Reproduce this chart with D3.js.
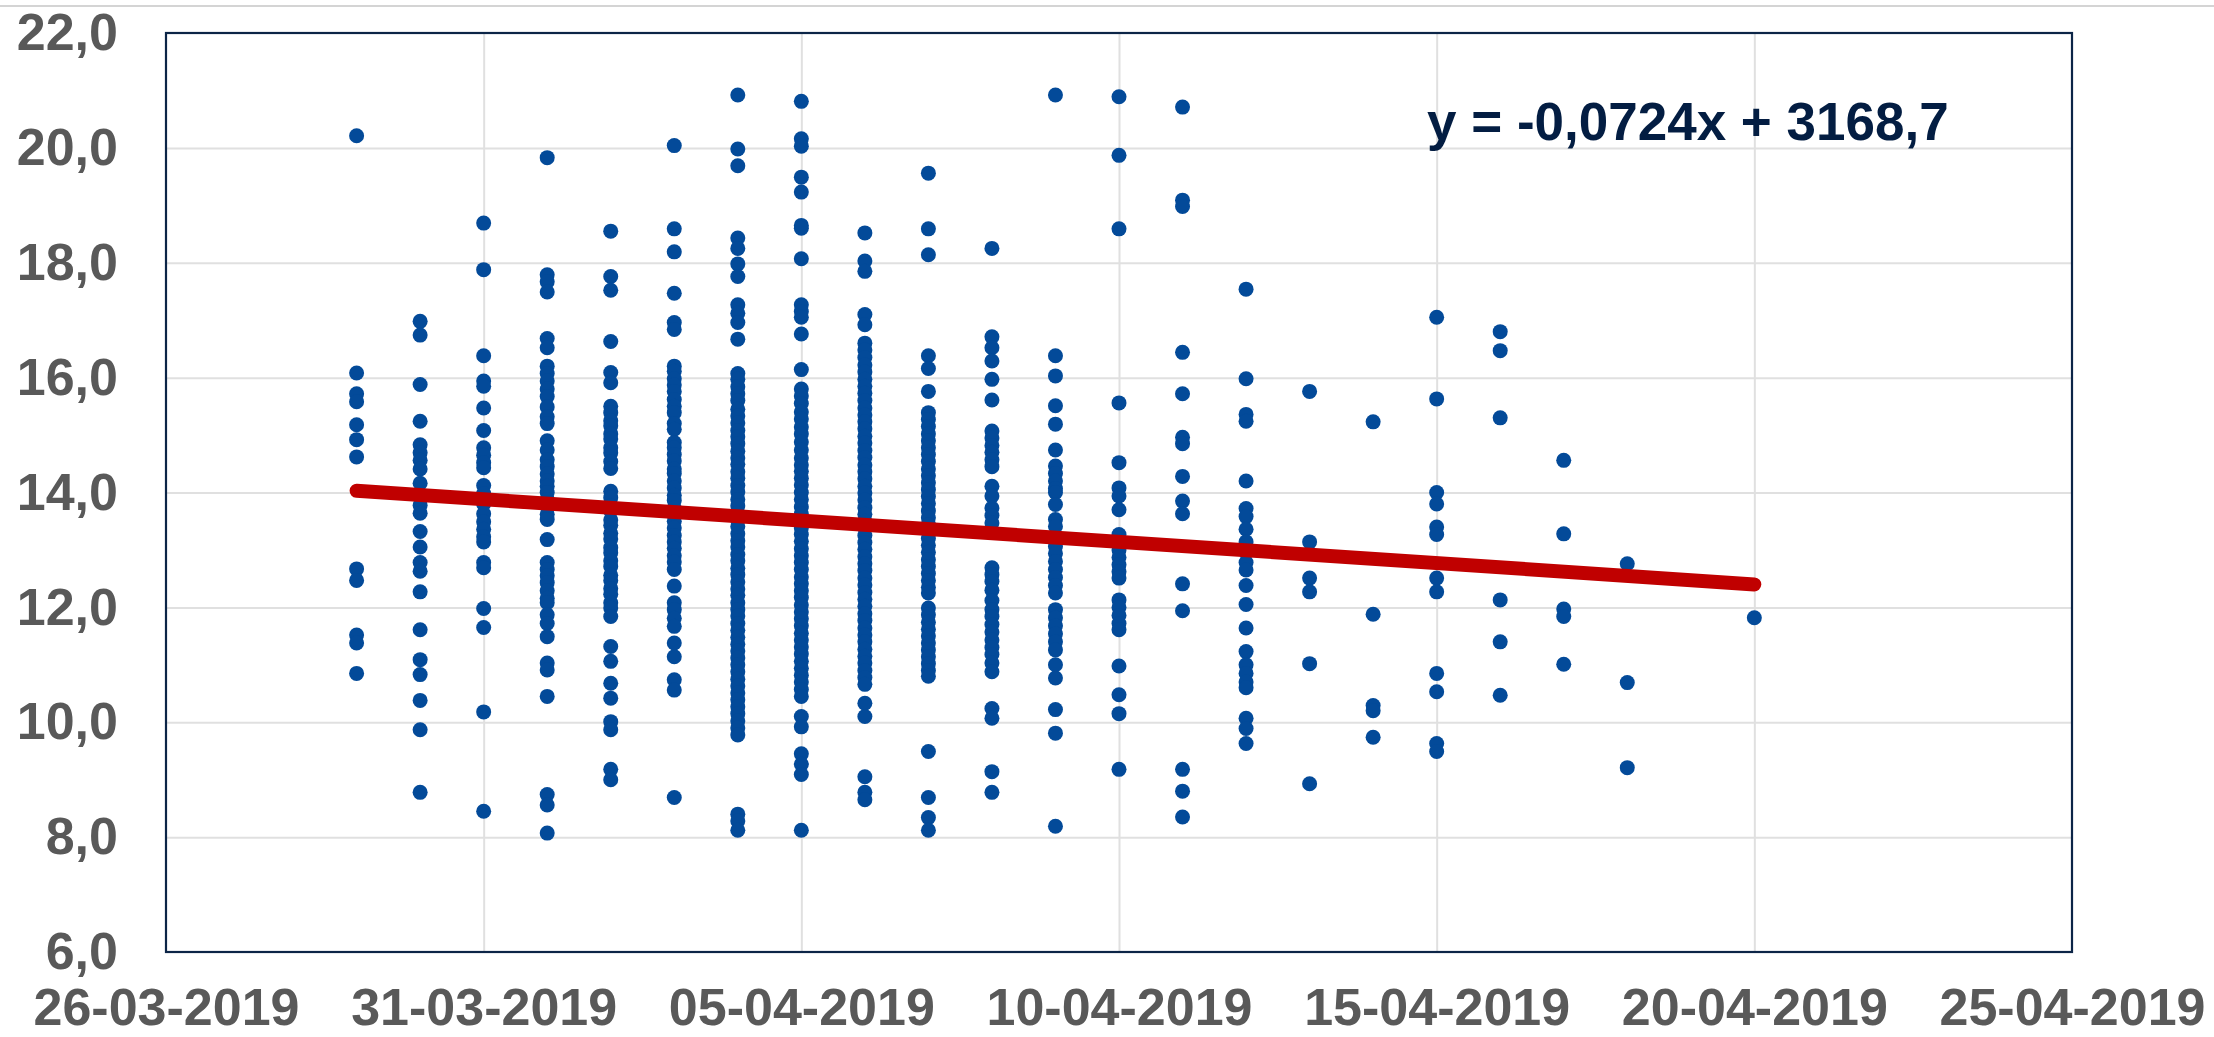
<!DOCTYPE html>
<html><head><meta charset="utf-8">
<script src="https://cdn.jsdelivr.net/npm/d3@7"></script>
<style>html,body{margin:0;padding:0;background:#fff;overflow:hidden;} svg{display:block;}</style>
</head><body><svg id="chart" width="2214" height="1037"></svg>
<script>
// ---- data ----
const dates = ["29-03-2019","30-03-2019","31-03-2019","01-04-2019","02-04-2019","03-04-2019",
  "04-04-2019","05-04-2019","06-04-2019","07-04-2019","08-04-2019","09-04-2019","10-04-2019",
  "11-04-2019","12-04-2019","13-04-2019","14-04-2019","15-04-2019","16-04-2019","17-04-2019",
  "18-04-2019","20-04-2019"];

const readings = [
  [20.21,16.08,15.72,15.58,15.18,14.92,14.62,12.67,12.47,11.52,11.38,10.85],
  [16.98,16.74,15.88,15.24,14.83,14.69,14.56,14.41,14.16,13.94,13.78,13.64,13.32,13.05,12.78,12.63,12.27,11.61,11.09,10.83,10.38,9.87,8.78],
  [18.69,17.88,16.38,15.94,15.85,15.47,15.08,14.78,14.65,14.52,14.43,14.12,13.98,13.80,13.63,13.49,13.36,13.23,13.14,12.78,12.69,11.98,11.65,10.18,8.45],
  [19.83,17.79,17.67,17.49,16.68,16.52,16.20,16.07,15.94,15.80,15.67,15.49,15.32,15.20,14.90,14.74,14.57,14.45,14.32,14.20,14.11,14.00,13.88,13.76,13.62,13.53,13.18,12.78,12.66,12.55,12.43,12.29,12.16,12.08,11.87,11.72,11.49,11.03,10.91,10.45,8.74,8.56,8.07],
  [18.55,17.76,17.52,16.63,16.09,15.91,15.50,15.39,15.25,15.16,15.02,14.93,14.78,14.69,14.54,14.42,14.02,13.91,13.77,13.68,13.52,13.43,13.29,13.19,13.04,12.95,12.81,12.71,12.56,12.47,12.33,12.23,12.08,11.99,11.84,11.32,11.06,10.68,10.42,10.01,9.87,9.18,9.00],
  [20.04,18.59,18.19,17.47,16.96,16.84,16.20,16.11,15.98,15.87,15.76,15.62,15.50,15.39,15.20,15.10,14.87,14.78,14.66,14.55,14.41,14.33,14.20,14.08,13.95,13.86,13.73,13.61,13.50,13.38,13.25,13.14,13.03,12.90,12.79,12.66,12.37,12.08,11.96,11.81,11.67,11.38,11.14,10.74,10.56,8.69],
  [20.92,19.98,19.69,18.43,18.25,17.98,17.76,17.27,17.12,16.96,16.67,16.07,15.97,15.84,15.72,15.60,15.45,15.33,15.21,15.08,14.97,14.85,14.72,14.60,14.49,14.36,14.25,14.12,14.01,13.88,13.77,13.64,13.52,13.41,13.28,13.16,13.05,12.92,12.81,12.68,12.57,12.44,12.32,12.21,12.08,11.96,11.85,11.72,11.60,11.48,11.36,11.24,11.12,11.00,10.88,10.75,10.63,10.51,10.39,10.27,10.15,10.02,9.90,9.78,8.40,8.28,8.12],
  [20.81,20.16,20.03,19.49,19.23,18.65,18.60,18.07,17.27,17.15,17.05,16.76,16.14,15.80,15.68,15.55,15.40,15.28,15.14,15.02,14.88,14.74,14.60,14.48,14.37,14.25,14.13,14.00,13.88,13.75,13.63,13.51,13.38,13.27,13.15,13.02,12.90,12.78,12.66,12.53,12.41,12.29,12.17,12.04,11.92,11.80,11.68,11.55,11.43,11.31,11.19,11.06,10.94,10.82,10.70,10.57,10.45,10.10,9.92,9.45,9.27,9.09,8.12],
  [18.52,18.03,17.85,17.10,16.92,16.60,16.48,16.35,16.22,16.10,15.97,15.85,15.73,15.60,15.47,15.35,15.23,15.11,14.98,14.86,14.73,14.61,14.48,14.36,14.24,14.11,13.99,13.87,13.74,13.62,13.50,13.38,13.25,13.13,13.01,12.88,12.76,12.64,12.51,12.39,12.26,12.14,12.02,11.89,11.77,11.64,11.52,11.40,11.27,11.15,11.03,10.90,10.78,10.66,10.33,10.10,9.05,8.78,8.65],
  [19.56,18.59,18.14,16.38,16.16,15.76,15.39,15.27,15.15,15.02,14.90,14.78,14.66,14.54,14.41,14.29,14.17,14.05,13.93,13.81,13.68,13.56,13.44,13.32,13.20,13.08,12.96,12.83,12.71,12.59,12.47,12.35,12.25,11.99,11.87,11.74,11.62,11.50,11.38,11.26,11.14,11.02,10.90,10.80,9.49,8.69,8.34,8.12],
  [18.25,16.71,16.52,16.29,15.97,15.61,15.07,14.95,14.82,14.70,14.57,14.45,14.11,13.94,13.73,13.60,13.47,12.69,12.57,12.45,12.30,12.12,11.96,11.84,11.70,11.57,11.43,11.30,11.18,11.03,10.88,10.24,10.07,9.14,8.78],
  [20.92,16.38,16.03,15.51,15.19,14.74,14.46,14.33,14.20,14.07,14.00,13.79,13.53,13.41,13.20,13.06,12.94,12.80,12.66,12.52,12.38,12.25,11.96,11.82,11.68,11.54,11.40,11.26,11.00,10.77,10.22,9.81,8.19],
  [20.89,19.87,18.59,15.56,14.52,14.08,13.94,13.70,13.27,13.14,13.00,12.87,12.74,12.62,12.51,12.13,12.00,11.86,11.72,11.61,10.98,10.48,10.15,9.18],
  [20.71,19.09,18.98,16.44,15.72,14.96,14.85,14.28,13.85,13.63,12.41,11.94,9.18,8.80,8.35],
  [17.54,15.98,15.36,15.24,14.20,13.72,13.58,13.36,13.14,12.96,12.78,12.65,12.38,12.05,11.64,11.23,11.00,10.85,10.70,10.60,10.07,9.89,9.63],
  [15.76,13.14,12.51,12.27,11.02,8.93],
  [15.23,11.88,10.29,10.20,9.74],
  [17.05,15.63,14.00,13.80,13.40,13.27,12.51,12.27,10.85,10.53,9.63,9.49],
  [16.80,16.47,15.30,12.13,11.40,10.47],
  [14.56,13.28,11.97,11.84,11.01],
  [12.76,10.69,9.21],
  [11.82]
];

const xTickLabels = ["26-03-2019","31-03-2019","05-04-2019","10-04-2019","15-04-2019","20-04-2019","25-04-2019"];
const yTickValues = [6,8,10,12,14,16,18,20,22];
const trendDates = ["29-03-2019","20-04-2019"];
const trendValues = [14.03, 12.40];
const equationText = "y = -0,0724x + 3168,7";

// ---- drawing ----
const parse = d3.utcParse("%d-%m-%Y");
const fmtDate = d3.utcFormat("%d-%m-%Y");
const loc = d3.formatLocale({decimal: ",", thousands: ".", grouping: [3], currency: ["", ""]});
const fmtY = loc.format(".1f");

const W = 2214, H = 1037;
const m = {left: 166, right: W - 2072, top: 33, bottom: H - 952};
const svg = d3.select("#chart");

const x = d3.scaleUtc()
  .domain([parse(xTickLabels[0]), parse(xTickLabels[xTickLabels.length - 1])])
  .range([m.left, W - m.right]);
const y = d3.scaleLinear()
  .domain([yTickValues[0], yTickValues[yTickValues.length - 1]])
  .range([H - m.bottom, m.top]);

// thin top rule
svg.append("line").attr("x1", 0).attr("x2", W).attr("y1", 6).attr("y2", 6)
  .attr("stroke", "#d4d4d4").attr("stroke-width", 2);

// gridlines
const gx = svg.append("g").attr("transform", `translate(0,${H - m.bottom})`)
  .call(d3.axisBottom(x).tickValues(xTickLabels.map(parse).slice(1, -1))
    .tickSize(-(H - m.top - m.bottom)).tickFormat(""));
gx.select(".domain").remove();
gx.selectAll("line").attr("stroke", "#e0e0e0").attr("stroke-width", 2);

const gy = svg.append("g").attr("transform", `translate(${m.left},0)`)
  .call(d3.axisLeft(y).tickValues(yTickValues.slice(1, -1))
    .tickSize(-(W - m.left - m.right)).tickFormat(""));
gy.select(".domain").remove();
gy.selectAll("line").attr("stroke", "#e0e0e0").attr("stroke-width", 2);

// plot border
svg.append("rect").attr("x", m.left).attr("y", m.top)
  .attr("width", W - m.left - m.right).attr("height", H - m.top - m.bottom)
  .attr("fill", "none").attr("stroke", "#0c2547").attr("stroke-width", 2.2);

// axis labels
const ax = svg.append("g").attr("transform", `translate(0,${H - m.bottom})`)
  .call(d3.axisBottom(x).tickValues(xTickLabels.map(parse)).tickSize(0).tickPadding(36).tickFormat(fmtDate));
ax.select(".domain").remove();
ax.selectAll("text").attr("font-family", "'Liberation Sans', Arial, sans-serif")
  .attr("font-weight", "bold").attr("font-size", 52).attr("fill", "#595959");

const ay = svg.append("g").attr("transform", `translate(${m.left},0)`)
  .call(d3.axisLeft(y).tickValues(yTickValues).tickSize(0).tickPadding(48).tickFormat(fmtY));
ay.select(".domain").remove();
ay.selectAll("text").attr("font-family", "'Liberation Sans', Arial, sans-serif")
  .attr("font-weight", "bold").attr("font-size", 52).attr("fill", "#595959");

// points
const points = [];
dates.forEach((d, i) => readings[i].forEach(v => points.push({date: parse(d), v})));
svg.append("g").selectAll("circle").data(points).join("circle")
  .attr("cx", p => x(p.date)).attr("cy", p => y(p.v)).attr("r", 7.5)
  .attr("fill", "#034a99");

// trend line
const trend = trendDates.map((d, i) => ({date: parse(d), v: trendValues[i]}));
svg.append("path").datum(trend)
  .attr("d", d3.line().x(p => x(p.date)).y(p => y(p.v)))
  .attr("fill", "none").attr("stroke", "#c00000").attr("stroke-width", 14)
  .attr("stroke-linecap", "round");

// equation
svg.append("text").attr("x", 1427).attr("y", 140)
  .attr("font-family", "'Liberation Sans', Arial, sans-serif").attr("font-weight", "bold")
  .attr("font-size", 53).attr("fill", "#031d42").text(equationText);
</script>
</body></html>
